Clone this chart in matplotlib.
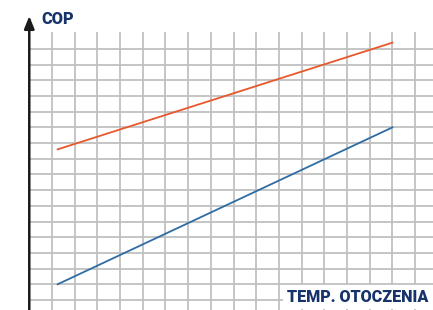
import matplotlib.pyplot as plt
import numpy as np

# temperature (grid units) and COP values
temp = [0.25, 15.0]
cop_high = [9.6, 16.4]   # orange line
cop_low = [1.0, 11.0]    # blue line

x_grid = np.arange(0, 17)
y_grid = np.arange(0, 17)

navy = '#17336b'

fig = plt.figure(figsize=(4.33, 3.10), dpi=100)
ax = fig.add_axes([0, 0, 1, 1])
ax.set_xlim(-2.29, 16.79)
ax.set_ylim(-0.64, 19.12)
ax.axis('off')

# grid
for x in x_grid:
    ax.plot([x, x], [-0.64, 17.0], color='#c0c0c0', lw=1.3, zorder=1)
for y in y_grid:
    ax.plot([-1.0, 16.79], [y, y], color='#c0c0c0', lw=1.3, zorder=1)

# y axis with arrow
ax.annotate('', xy=(-1.0, 18.1), xytext=(-1.0, -0.64),
            arrowprops=dict(arrowstyle='-|>,head_length=0.75,head_width=0.3',
                            color='#1a1a1a', lw=1.8, shrinkA=0, shrinkB=0),
            zorder=4)

ax.plot(temp, cop_high, color='#e8582c', lw=1.3, zorder=3)
ax.plot(temp, cop_low, color='#2f6ca3', lw=1.3, zorder=3)

ax.text(-0.45, 17.9, 'COP', fontsize=11.7, fontweight='heavy', color=navy,
        family=['Roboto', 'DejaVu Sans'], va='center', ha='left', zorder=5)
ax.text(16.6, 0.2, 'TEMP. OTOCZENIA', fontsize=11.6, fontweight='heavy', color=navy,
        family=['Roboto', 'DejaVu Sans'], va='center', ha='right', zorder=5,
        bbox=dict(facecolor='white', edgecolor='none', pad=3))

fig.savefig('out.png', dpi=100)
